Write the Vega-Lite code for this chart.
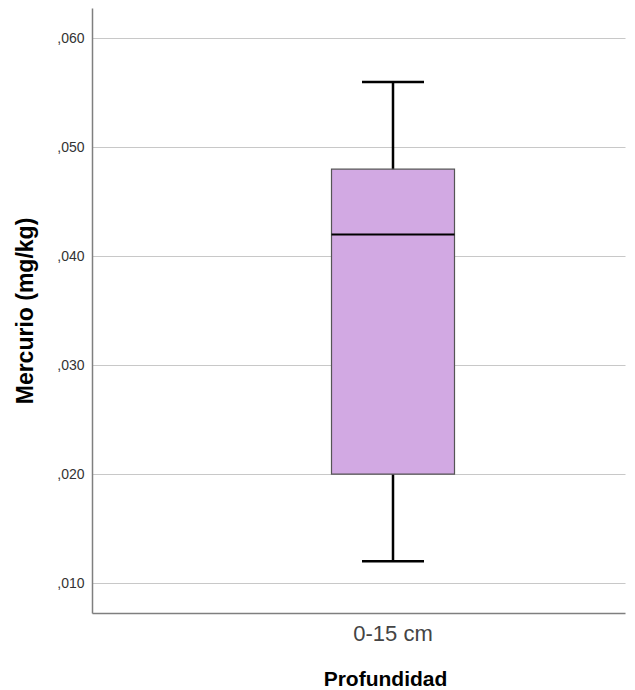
{
  "$schema": "https://vega.github.io/schema/vega-lite/v6.json",
  "width": 533,
  "height": 605,
  "autosize": {"type": "none"},
  "padding": {"left": 92, "top": 8, "right": 10, "bottom": 77},
  "background": "white",
  "config": {
    "view": {"stroke": null},
    "font": "Liberation Sans"
  },
  "data": {
    "values": [
      {"Profundidad": "0-15 cm", "lower": 0.012, "q1": 0.020, "median": 0.042, "q3": 0.048, "upper": 0.056}
    ]
  },
  "encoding": {
    "x": {
      "field": "Profundidad",
      "type": "nominal",
      "scale": {"type": "band", "paddingInner": 0, "paddingOuter": 1, "align": 0.5971},
      "axis": {
        "title": "Profundidad",
        "titleFont": "Liberation Sans",
        "titleFontSize": 21,
        "titleFontWeight": "bold",
        "titleColor": "#000000",
        "titlePadding": 24,
        "titleX": 293,
        "titleAlign": "center",
        "labelFont": "Liberation Sans",
        "labelFontSize": 22,
        "labelColor": "#444444",
        "labelPadding": 10,
        "labelAngle": 0,
        "ticks": false,
        "domainColor": "#7f7f7f",
        "domainWidth": 1.5,
        "grid": false
      }
    }
  },
  "layer": [
    {
      "mark": {"type": "rule", "color": "#000000", "strokeWidth": 2.5},
      "encoding": {
        "y": {
          "field": "lower",
          "type": "quantitative",
          "scale": {"domain": [0.00725, 0.0628], "nice": false, "zero": false},
          "axis": {
            "title": "Mercurio (mg/kg)",
            "titleFont": "Liberation Sans",
            "titleFontSize": 23,
            "titleFontWeight": "bold",
            "titleColor": "#000000",
            "titlePadding": 19,
            "values": [0.01, 0.02, 0.03, 0.04, 0.05, 0.06],
            "labelExpr": "replace(format(datum.value, '.3f'), '0.', ',')",
            "labelFont": "Liberation Sans",
            "labelFontSize": 14,
            "labelColor": "#333333",
            "labelPadding": 8,
            "ticks": false,
            "domainColor": "#7f7f7f",
            "domainWidth": 1.5,
            "grid": true,
            "gridColor": "#c8c8c8",
            "gridWidth": 1.2
          }
        },
        "y2": {"field": "upper"}
      }
    },
    {
      "mark": {"type": "bar", "width": 123, "fill": "#D2A9E3", "stroke": "#555555", "strokeWidth": 1.2},
      "encoding": {
        "y": {"field": "q1", "type": "quantitative"},
        "y2": {"field": "q3"}
      }
    },
    {
      "mark": {"type": "tick", "size": 123, "thickness": 2, "color": "#000000", "opacity": 1},
      "encoding": {
        "y": {"field": "median", "type": "quantitative"}
      }
    },
    {
      "mark": {"type": "tick", "size": 62, "thickness": 2.5, "color": "#000000", "opacity": 1},
      "encoding": {
        "y": {"field": "lower", "type": "quantitative"}
      }
    },
    {
      "mark": {"type": "tick", "size": 62, "thickness": 2.5, "color": "#000000", "opacity": 1},
      "encoding": {
        "y": {"field": "upper", "type": "quantitative"}
      }
    }
  ]
}
